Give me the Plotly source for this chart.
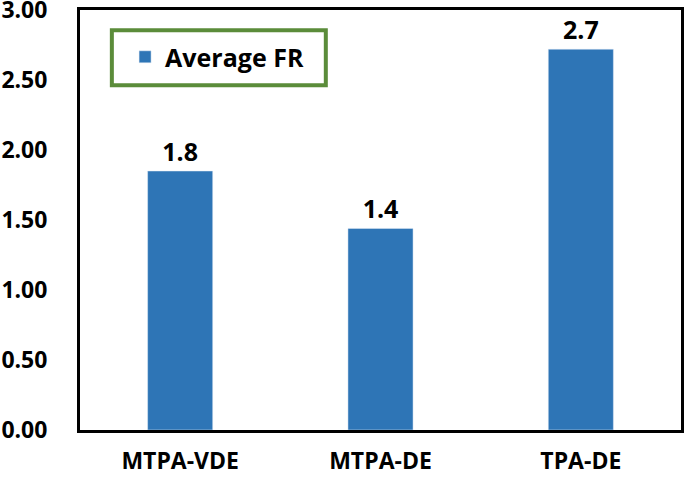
import plotly.graph_objects as go

categories = ["MTPA-VDE", "MTPA-DE", "TPA-DE"]
values = [1.85, 1.44, 2.72]
labels = ["1.8", "1.4", "2.7"]
series_name = "Average FR"
y_ticks = [0, 0.5, 1.0, 1.5, 2.0, 2.5, 3.0]
y_tick_labels = ["0.00", "0.50", "1.00", "1.50", "2.00", "2.50", "3.00"]

font_family = "Open Sans"

fig = go.Figure()
fig.add_trace(go.Bar(
    x=categories, y=values, name=series_name,
    marker=dict(color="#2E75B6"),
    text=labels, textposition="outside", cliponaxis=False,
    textfont=dict(family=font_family, size=25, color="black", weight="bold"),
    showlegend=True,
))

# green frame around the legend
fig.add_shape(
    type="rect", xref="paper", yref="paper",
    x0=0.053, x1=0.409, y0=0.821, y1=0.952,
    line=dict(color="#5B8C3A", width=4), fillcolor="rgba(0,0,0,0)",
)

fig.update_layout(
    width=685, height=477,
    margin=dict(l=80, r=4, t=10, b=47),
    plot_bgcolor="white", paper_bgcolor="white",
    bargap=0.675,
    font=dict(family=font_family, size=20, color="black", weight="bold"),
    showlegend=True,
    legend=dict(
        x=0.075, y=0.888, xanchor="left", yanchor="middle",
        borderwidth=0, bgcolor="rgba(0,0,0,0)",
        font=dict(family=font_family, size=25, color="black", weight="bold"),
        itemwidth=30,
    ),
    xaxis=dict(
        showline=True, linecolor="black", linewidth=3, mirror=True,
        ticks="", automargin=False, ticklabelstandoff=8,
        tickfont=dict(family=font_family, size=23, weight="bold"),
    ),
    yaxis=dict(
        range=[0, 3.0], tickvals=y_ticks, ticktext=y_tick_labels,
        showline=True, linecolor="black", linewidth=3, mirror=True,
        showgrid=False, zeroline=False, ticks="", automargin=False,
        ticklabelstandoff=25, ticklabeloverflow="allow",
        tickfont=dict(family=font_family, size=23, weight="bold"),
    ),
)

fig.write_html("out.html", config={"displayModeBar": False},
               post_script="document.body.style.margin='0';")
